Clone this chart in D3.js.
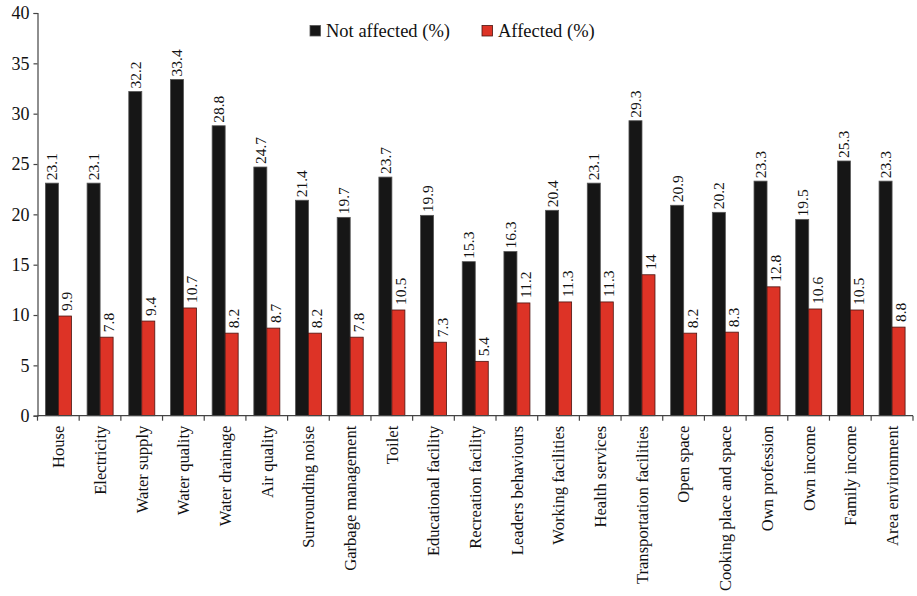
<!DOCTYPE html>
<html>
<head>
<meta charset="utf-8">
<script src="https://cdn.jsdelivr.net/npm/d3@7"></script>
<style>
  body { margin: 0; background: #fff; }
  svg text { font-family: "Liberation Serif", "Times New Roman", serif; fill: #111; }
</style>
</head>
<body>
<svg width="917" height="596"></svg>
<script>
// カテゴリと値
var categories = ["House", "Electricity", "Water supply", "Water quality", "Water drainage",
  "Air quality", "Surrounding noise", "Garbage management", "Toilet", "Educational facility",
  "Recreation facility", "Leaders behaviours", "Working facilities", "Health services",
  "Transportation facilities", "Open space", "Cooking place and space", "Own profession",
  "Own income", "Family income", "Area environment"];
var notAffected = [23.1, 23.1, 32.2, 33.4, 28.8, 24.7, 21.4, 19.7, 23.7, 19.9, 15.3, 16.3,
  20.4, 23.1, 29.3, 20.9, 20.2, 23.3, 19.5, 25.3, 23.3];
var affected = [9.9, 7.8, 9.4, 10.7, 8.2, 8.7, 8.2, 7.8, 10.5, 7.3, 5.4, 11.2,
  11.3, 11.3, 14, 8.2, 8.3, 12.8, 10.6, 10.5, 8.8];
var seriesNames = ["Not affected (%)", "Affected (%)"];
var yTicks = [0, 5, 10, 15, 20, 25, 30, 35, 40];

var svg = d3.select("svg"),
    margin = {left: 37.5, right: 4},
    width = +svg.attr("width");

var colors = ["#161616", "#dd3326"];
var strokes = ["#555", "#4a1410"];

var x = d3.scaleBand()
    .domain(categories)
    .range([margin.left, width - margin.right])
    .paddingInner(0.376)
    .paddingOuter(0.19);

var x1 = d3.scaleBand()
    .domain([0, 1])
    .range([0, x.bandwidth()]);

var y = d3.scaleLinear()
    .domain([0, 40])
    .range([415.7, 13]);

var rows = categories.map(function (c, i) {
  return {cat: c, vals: [notAffected[i], affected[i]]};
});

// 棒
var g = svg.append("g");
var grp = g.selectAll("g.cat")
    .data(rows)
    .enter().append("g")
    .attr("transform", function (d) { return "translate(" + x(d.cat) + ",0)"; });

grp.selectAll("rect")
    .data(function (d) { return d.vals.map(function (v, k) { return {k: k, v: v}; }); })
    .enter().append("rect")
    .attr("x", function (d) { return x1(d.k); })
    .attr("y", function (d) { return y(d.v); })
    .attr("width", x1.bandwidth())
    .attr("height", function (d) { return y(0) - y(d.v); })
    .attr("fill", function (d) { return colors[d.k]; })
    .attr("stroke", function (d) { return strokes[d.k]; })
    .attr("stroke-width", 0.8);

// 値ラベル(縦書き)
grp.selectAll("text.val")
    .data(function (d) { return d.vals.map(function (v, k) { return {k: k, v: v}; }); })
    .enter().append("text")
    .attr("class", "val")
    .attr("transform", function (d) {
      var cx = x1(d.k) + x1.bandwidth() / 2 + (d.k === 1 ? 2 : 0);
      var cy = y(d.v) - (d.k === 1 ? 5 : 3);
      return "translate(" + cx + "," + cy + ") rotate(-90)";
    })
    .attr("dy", "0.35em")
    .attr("font-size", 15.5)
    .text(function (d) { return String(d.v); });

// y軸
var yAxis = svg.append("g")
    .attr("transform", "translate(" + margin.left + ",0)")
    .call(d3.axisLeft(y).tickValues(yTicks).tickSize(4).tickPadding(4));
yAxis.attr("font-family", null);
yAxis.selectAll("text").attr("font-size", 18).attr("fill", "#111");
yAxis.selectAll("path, line").attr("stroke", "#444").attr("stroke-width", 1.2);

// x軸
var xAxis = svg.append("g")
    .attr("transform", "translate(0," + y(0) + ")");
xAxis.append("line")
    .attr("x1", margin.left).attr("x2", width - margin.right)
    .attr("stroke", "#444").attr("stroke-width", 1.2);
var step = x.step();
function edge(i) {
  return i < categories.length ? x(categories[i]) - x.paddingOuter() * step
    : x(categories[i - 1]) + x.bandwidth() + x.paddingOuter() * step;
}
xAxis.selectAll("line.tick")
    .data(d3.range(categories.length + 1))
    .enter().append("line")
    .attr("class", "tick")
    .attr("x1", edge)
    .attr("x2", edge)
    .attr("y1", 0).attr("y2", 5)
    .attr("stroke", "#444").attr("stroke-width", 1.2);

xAxis.selectAll("text")
    .data(categories)
    .enter().append("text")
    .attr("transform", function (d) {
      return "translate(" + (x(d) + x.bandwidth() / 2) + ",10) rotate(-90)";
    })
    .attr("text-anchor", "end")
    .attr("dy", "0.35em")
    .attr("font-size", 16.6)
    .text(function (d) { return d; });

// 凡例
var legendX = [310, 482];
var legend = svg.append("g");
var li = legend.selectAll("g")
    .data(seriesNames)
    .enter().append("g")
    .attr("transform", function (d, i) { return "translate(" + legendX[i] + ",25.5)"; });
li.append("rect")
    .attr("width", 10.5).attr("height", 10.5)
    .attr("fill", function (d, i) { return colors[i]; })
    .attr("stroke", function (d, i) { return strokes[i]; })
    .attr("stroke-width", 0.8);
li.append("text")
    .attr("x", 16).attr("y", 5.5)
    .attr("dy", "0.35em")
    .attr("font-size", 18.5)
    .text(function (d) { return d; });
</script>
</body>
</html>
